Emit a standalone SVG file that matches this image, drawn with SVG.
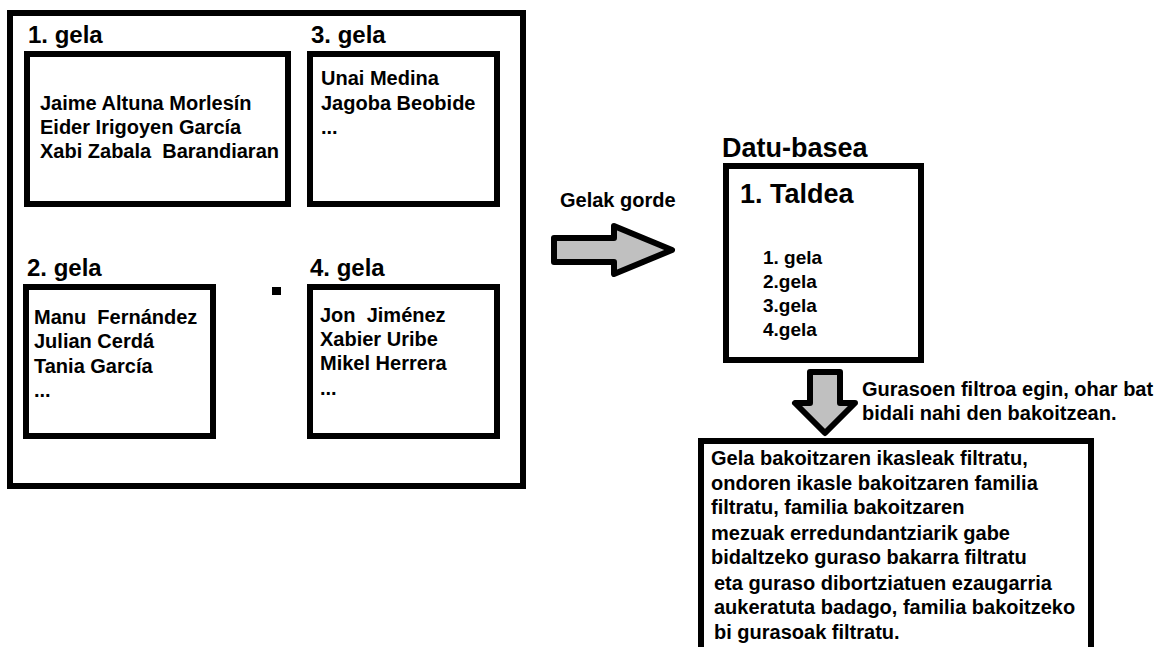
<svg xmlns="http://www.w3.org/2000/svg" width="1164" height="647" viewBox="0 0 1164 647">
<style>
  .box { fill: #ffffff; stroke: #000000; stroke-width: 6; }
  .arrow { fill: #c0c0c0; stroke: #000000; stroke-width: 6; stroke-linejoin: round; }
  text { font-family: "Liberation Sans", Arial, sans-serif; font-weight: bold; fill: #000000; white-space: pre; }
  .h { font-size: 24px; }
  .t { font-size: 20px; }
  .big { font-size: 27px; }
  .s { font-size: 19px; }
</style>
<rect width="1164" height="647" fill="#ffffff"/>
<g id="gelak">
  <rect class="box" x="10" y="13" width="513" height="473"/>
  <g id="gela1">
    <text class="h" x="28" y="43">1. gela</text>
    <rect class="box" x="27" y="54" width="261" height="150"/>
    <text class="t" x="40" y="110">Jaime Altuna Morlesín</text>
    <text class="t" x="40" y="134">Eider Irigoyen García</text>
    <text class="t" x="40" y="158">Xabi Zabala  Barandiaran</text>
  </g>
  <g id="gela3">
    <text class="h" x="311" y="43">3. gela</text>
    <rect class="box" x="310" y="54" width="187" height="150"/>
    <text class="t" x="321" y="85">Unai Medina</text>
    <text class="t" x="321" y="110">Jagoba Beobide</text>
    <text class="t" x="321" y="134">...</text>
  </g>
  <g id="gela2">
    <text class="h" x="27" y="276">2. gela</text>
    <rect class="box" x="26" y="287" width="187" height="149"/>
    <text class="t" x="34" y="324">Manu  Fernández</text>
    <text class="t" x="34" y="348">Julian Cerdá</text>
    <text class="t" x="34" y="373">Tania García</text>
    <text class="t" x="34" y="397">...</text>
  </g>
  <g id="gela4">
    <text class="h" x="310" y="276">4. gela</text>
    <rect class="box" x="310" y="287" width="187" height="149"/>
    <text class="t" x="320" y="322">Jon  Jiménez</text>
    <text class="t" x="320" y="346">Xabier Uribe</text>
    <text class="t" x="320" y="370">Mikel Herrera</text>
    <text class="t" x="320" y="395">...</text>
  </g>
  <rect x="272" y="287" width="9" height="8" fill="#000000"/>
</g>
<g id="datubasea">
  <text class="big" x="722" y="157">Datu-basea</text>
  <rect class="box" x="726" y="166" width="195" height="194"/>
  <text class="big" x="740" y="203">1. Taldea</text>
  <text class="s" x="763" y="264">1. gela</text>
  <text class="s" x="763" y="288">2.gela</text>
  <text class="s" x="763" y="312">3.gela</text>
  <text class="s" x="763" y="336">4.gela</text>
</g>
<g id="filtroa">
  <rect class="box" x="701" y="441" width="390" height="230"/>
  <text class="t" x="711" y="465">Gela bakoitzaren ikasleak filtratu,</text>
  <text class="t" x="711" y="490">ondoren ikasle bakoitzaren familia</text>
  <text class="t" x="711" y="514">filtratu, familia bakoitzaren</text>
  <text class="t" x="711" y="540">mezuak erredundantziarik gabe</text>
  <text class="t" x="711" y="564">bidaltzeko guraso bakarra filtratu</text>
  <text class="t" x="714" y="590">eta guraso dibortziatuen ezaugarria</text>
  <text class="t" x="714" y="614">aukeratuta badago, familia bakoitzeko</text>
  <text class="t" x="714" y="639">bi gurasoak filtratu.</text>
</g>
<g id="connectors">
  <path class="arrow" d="M554,238 H614 V226 L672,250 L614,274 V262 H554 Z"/>
  <text class="t" x="560" y="207">Gelak gorde</text>
  <path class="arrow" d="M810,372 H840 V403 H855 L825,433 L795,403 H810 Z"/>
  <text class="t" x="862" y="396">Gurasoen filtroa egin, ohar bat</text>
  <text class="t" x="862" y="420">bidali nahi den bakoitzean.</text>
</g>
</svg>
